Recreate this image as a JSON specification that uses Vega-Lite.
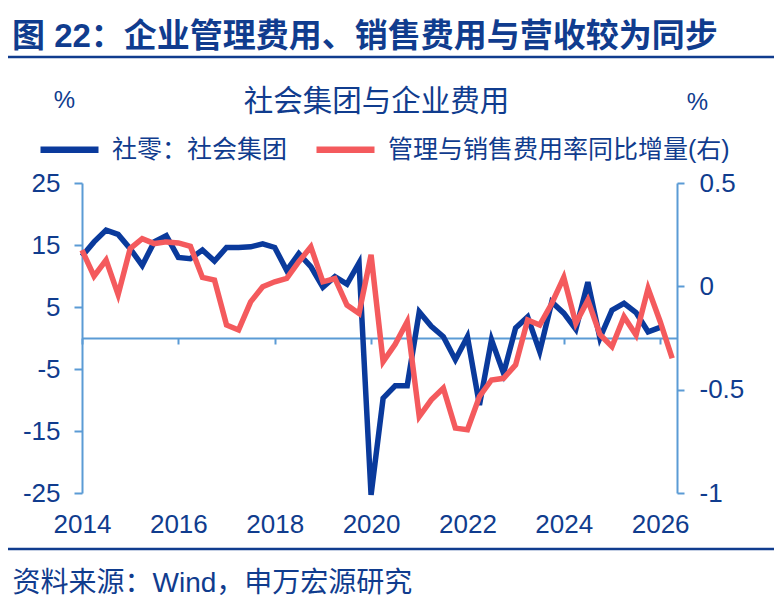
{
  "$schema": "https://vega.github.io/schema/vega-lite/v6.json",
  "description": "社会集团与企业费用",
  "width": 595,
  "height": 310,
  "autosize": "none",
  "padding": {"left": 82, "top": 183, "right": 97, "bottom": 113},
  "background": "white",
  "config": {
    "view": {"stroke": null},
    "font": "Liberation Sans, Noto Sans CJK SC"
  },
  "title": {
    "text": "图 22：企业管理费用、销售费用与营收较为同步",
    "anchor": "start",
    "frame": "group",
    "dx": -70,
    "offset": 2,
    "font": "Liberation Sans, Noto Sans CJK SC",
    "fontSize": 33,
    "fontWeight": "bold",
    "color": "#103c8e"
  },
  "datasets": {
    "retail": [
      {"t": 2014, "v": 13.2}, {"t": 2014.25, "v": 15.5}, {"t": 2014.5, "v": 17.4}, {"t": 2014.75, "v": 16.7},
      {"t": 2015, "v": 14.4}, {"t": 2015.25, "v": 11.7}, {"t": 2015.5, "v": 15.5}, {"t": 2015.75, "v": 16.5},
      {"t": 2016, "v": 13.0}, {"t": 2016.25, "v": 12.8}, {"t": 2016.5, "v": 14.2}, {"t": 2016.75, "v": 12.4},
      {"t": 2017, "v": 14.6}, {"t": 2017.25, "v": 14.6}, {"t": 2017.5, "v": 14.7}, {"t": 2017.75, "v": 15.2},
      {"t": 2018, "v": 14.6}, {"t": 2018.25, "v": 10.9}, {"t": 2018.5, "v": 13.6}, {"t": 2018.75, "v": 11.5},
      {"t": 2019, "v": 8.2}, {"t": 2019.25, "v": 9.9}, {"t": 2019.5, "v": 8.7}, {"t": 2019.75, "v": 12.1},
      {"t": 2020, "v": -25.3}, {"t": 2020.25, "v": -9.7}, {"t": 2020.5, "v": -7.7}, {"t": 2020.75, "v": -7.7},
      {"t": 2021, "v": 4.2}, {"t": 2021.25, "v": 1.9}, {"t": 2021.5, "v": 0.2}, {"t": 2021.75, "v": -3.5},
      {"t": 2022, "v": 0.2}, {"t": 2022.25, "v": -10.8}, {"t": 2022.5, "v": -0.3}, {"t": 2022.75, "v": -5.7},
      {"t": 2023, "v": 1.6}, {"t": 2023.25, "v": 3.4}, {"t": 2023.5, "v": -2.2}, {"t": 2023.75, "v": 5.8},
      {"t": 2024, "v": 4.0}, {"t": 2024.25, "v": 1.4}, {"t": 2024.5, "v": 9.0}, {"t": 2024.75, "v": 0.0},
      {"t": 2025, "v": 4.5}, {"t": 2025.25, "v": 5.6}, {"t": 2025.5, "v": 4.1}, {"t": 2025.75, "v": 1.0},
      {"t": 2026, "v": 1.7}
    ],
    "expense": [
      {"t": 2014, "v": 0.175}, {"t": 2014.25, "v": 0.049}, {"t": 2014.5, "v": 0.127}, {"t": 2014.75, "v": -0.04},
      {"t": 2015, "v": 0.183}, {"t": 2015.25, "v": 0.231}, {"t": 2015.5, "v": 0.207}, {"t": 2015.75, "v": 0.215},
      {"t": 2016, "v": 0.21}, {"t": 2016.25, "v": 0.194}, {"t": 2016.5, "v": 0.043}, {"t": 2016.75, "v": 0.03},
      {"t": 2017, "v": -0.187}, {"t": 2017.25, "v": -0.211}, {"t": 2017.5, "v": -0.075}, {"t": 2017.75, "v": -0.002},
      {"t": 2018, "v": 0.022}, {"t": 2018.25, "v": 0.038}, {"t": 2018.5, "v": 0.119}, {"t": 2018.75, "v": 0.191},
      {"t": 2019, "v": 0.022}, {"t": 2019.25, "v": 0.038}, {"t": 2019.5, "v": -0.091}, {"t": 2019.75, "v": -0.131},
      {"t": 2020, "v": 0.152}, {"t": 2020.25, "v": -0.364}, {"t": 2020.5, "v": -0.28}, {"t": 2020.75, "v": -0.171},
      {"t": 2021, "v": -0.63}, {"t": 2021.25, "v": -0.549}, {"t": 2021.5, "v": -0.493}, {"t": 2021.75, "v": -0.686},
      {"t": 2022, "v": -0.694}, {"t": 2022.25, "v": -0.533}, {"t": 2022.5, "v": -0.453}, {"t": 2022.75, "v": -0.445},
      {"t": 2023, "v": -0.38}, {"t": 2023.25, "v": -0.163}, {"t": 2023.5, "v": -0.187}, {"t": 2023.75, "v": -0.083},
      {"t": 2024, "v": 0.043}, {"t": 2024.25, "v": -0.179}, {"t": 2024.5, "v": -0.067}, {"t": 2024.75, "v": -0.233},
      {"t": 2025, "v": -0.292}, {"t": 2025.25, "v": -0.147}, {"t": 2025.5, "v": -0.236}, {"t": 2025.75, "v": -0.01},
      {"t": 2026, "v": -0.17}, {"t": 2026.25, "v": -0.348}
    ]
  },
  "layer": [
    {
      "data": {"values": [{}]},
      "mark": {"type": "rule", "color": "#103c8e", "strokeWidth": 2.5},
      "encoding": {
        "x": {
          "datum": 2012.464,
          "type": "quantitative",
          "scale": {"domain": [2014, 2026.35], "nice": false, "zero": false},
          "axis": {
            "orient": "top",
            "domain": false,
            "ticks": false,
            "labels": false,
            "grid": false,
            "title": "社会集团与企业费用",
            "titleX": 294,
            "titleY": -82,
            "titleAlign": "center",
            "titleBaseline": "middle",
            "titleFontSize": 29.5,
            "titleFontWeight": "normal",
            "titleColor": "#103c8e"
          }
        },
        "x2": {"datum": 2028.364},
        "y": {
          "datum": 45.32,
          "type": "quantitative",
          "scale": {"domain": [-25, 25], "nice": false, "zero": false},
          "axis": null
        }
      }
    },
    {
      "data": {"values": [{}]},
      "mark": {"type": "rule", "color": "#103c8e", "strokeWidth": 2.5},
      "encoding": {
        "x": {
          "datum": 2012.464,
          "type": "quantitative",
          "scale": {"domain": [2014, 2026.35], "nice": false, "zero": false},
          "axis": null
        },
        "x2": {"datum": 2028.364},
        "y": {
          "datum": -34.03,
          "type": "quantitative",
          "scale": {"domain": [-25, 25], "nice": false, "zero": false},
          "axis": null
        }
      }
    },
    {
      "data": {"name": "retail"},
      "mark": {"type": "line", "strokeWidth": 5.5},
      "encoding": {
        "x": {
          "field": "t",
          "type": "quantitative",
          "scale": {"domain": [2014, 2026.35], "nice": false, "zero": false},
          "axis": {
            "orient": "bottom",
            "offset": -155,
            "values": [2014, 2016, 2018, 2020, 2022, 2024, 2026],
            "format": "d",
            "grid": false,
            "domainColor": "#5b9bd5",
            "domainWidth": 2,
            "tickColor": "#5b9bd5",
            "tickWidth": 2,
            "tickSize": 6,
            "labelPadding": 167,
            "labelFontSize": 26,
            "labelColor": "#103c8e",
            "labelFlush": false,
            "title": "资料来源：Wind，申万宏源研究",
            "titleX": -70,
            "titleY": 245,
            "titleAlign": "left",
            "titleBaseline": "middle",
            "titleFontSize": 28,
            "titleFontWeight": "normal",
            "titleColor": "#103c8e"
          }
        },
        "y": {
          "field": "v",
          "type": "quantitative",
          "scale": {"domain": [-25, 25], "nice": false, "zero": false},
          "axis": {
            "orient": "left",
            "values": [25, 15, 5, -5, -15, -25],
            "labelExpr": "datum.value + ''",
            "grid": false,
            "domainColor": "#5b9bd5",
            "domainWidth": 2,
            "tickColor": "#5b9bd5",
            "tickWidth": 2,
            "tickSize": 8,
            "labelPadding": 14,
            "labelFontSize": 26,
            "labelColor": "#103c8e",
            "title": "%",
            "titleAngle": 0,
            "titleX": -18,
            "titleY": -83,
            "titleAlign": "center",
            "titleBaseline": "middle",
            "titleFontSize": 24,
            "titleFontWeight": "normal",
            "titleColor": "#103c8e"
          }
        },
        "color": {
          "datum": "社零：社会集团",
          "scale": {
            "domain": ["社零：社会集团", "管理与销售费用率同比增量(右)"],
            "range": ["#0a3a9c", "#f45a5d"]
          },
          "legend": {
            "orient": "none",
            "legendX": -45,
            "legendY": -66,
            "direction": "horizontal",
            "title": null,
            "symbolType": "stroke",
            "symbolSize": 3364,
            "symbolStrokeWidth": 6.5,
            "labelOffset": 10,
            "columnPadding": 15,
            "labelFontSize": 25,
            "labelColor": "#103c8e",
            "labelLimit": 500,
            "padding": 0
          }
        }
      }
    },
    {
      "data": {"name": "expense"},
      "mark": {"type": "line", "strokeWidth": 5.5},
      "encoding": {
        "x": {
          "field": "t",
          "type": "quantitative",
          "scale": {"domain": [2014, 2026.35], "nice": false, "zero": false},
          "axis": null
        },
        "y": {
          "field": "v",
          "type": "quantitative",
          "scale": {"domain": [-1, 0.5], "nice": false, "zero": false},
          "axis": {
            "orient": "right",
            "values": [0.5, 0, -0.5, -1],
            "labelExpr": "datum.value + ''",
            "grid": false,
            "domainColor": "#5b9bd5",
            "domainWidth": 2,
            "tickColor": "#5b9bd5",
            "tickWidth": 2,
            "tickSize": 7,
            "labelPadding": 15,
            "labelFontSize": 26,
            "labelColor": "#103c8e",
            "title": "%",
            "titleAngle": 0,
            "titleX": 20,
            "titleY": -81,
            "titleAlign": "center",
            "titleBaseline": "middle",
            "titleFontSize": 24,
            "titleFontWeight": "normal",
            "titleColor": "#103c8e"
          }
        },
        "color": {
          "datum": "管理与销售费用率同比增量(右)"
        }
      }
    }
  ],
  "resolve": {"scale": {"x": "independent", "y": "independent"}}
}
